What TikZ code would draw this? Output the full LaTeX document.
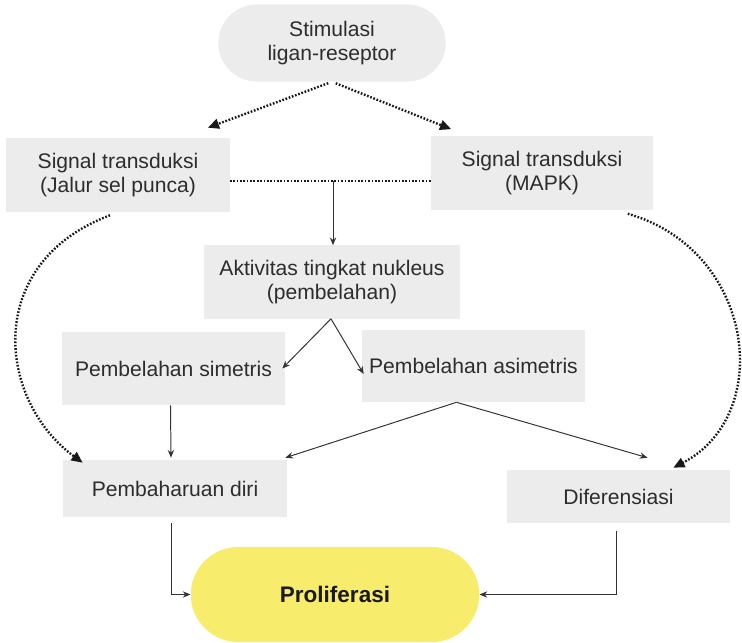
\documentclass[tikz,border=0pt]{standalone}
\usepackage{fontspec}
\setmainfont{Liberation Sans}
\usetikzlibrary{arrows.meta,calc,shapes.misc}
\definecolor{boxgray}{RGB}{236,236,236}
\definecolor{prolyellow}{RGB}{248,236,108}
\definecolor{txtgray}{RGB}{45,45,45}

\tikzset{
block/.style    = {rectangle, fill=boxgray, text=txtgray, align=center, inner sep=2pt, font=\fontsize{15}{17}\selectfont},
pill/.style     = {rounded rectangle, align=center, inner sep=2pt},
line/.style     = {draw=black!80, line width=0.7pt, -{Stealth[length=5.5pt,width=4.5pt]}},
dotline/.style  = {draw=black!90, line width=1.7pt, dash pattern=on 1.2pt off 1.2pt},
dotarrow/.style = {dotline, -{Triangle[length=8pt,width=7pt]}},
}

\begin{document}
\begin{tikzpicture}[x=0.025cm, y=-0.025cm]
    \useasboundingbox (0,0) rectangle (742,643);
    % nodes
    \node[block, pill, minimum width=5.825cm, minimum height=1.925cm] (stim) at (332,43) {Stimulasi\\ligan-reseptor};
    \node[block, minimum width=5.575cm, minimum height=1.85cm] (jalur) at (118,175) {Signal transduksi\\(Jalur sel punca)};
    \node[block, minimum width=5.525cm, minimum height=1.825cm] (mapk) at (542,173) {Signal transduksi\\(MAPK)};
    \node[block, minimum width=6.375cm, minimum height=1.825cm] (akt) at (332,282) {Aktivitas tingkat nukleus\\(pembelahan)};
    \node[block, minimum width=5.575cm, minimum height=1.825cm] (sim) at (173.5,368.5) {Pembelahan simetris};
    \node[block, minimum width=5.575cm, minimum height=1.8cm] (asim) at (473.5,366) {Pembelahan asimetris};
    \node[block, minimum width=5.6cm, minimum height=1.425cm] (baru) at (175,488.5) {Pembaharuan diri};
    \node[block, minimum width=5.575cm, minimum height=1.325cm] (dif) at (618.5,496.5) {Diferensiasi};
    \node[pill, fill=prolyellow, text=black!90, font=\bfseries\fontsize{16}{18}\selectfont,
          minimum width=7.35cm, minimum height=2.375cm] (prol) at (335,594.5) {Proliferasi};

    % signal paths
    \draw[dotarrow, shorten <=1mm] (stim.south) -- ($(jalur.north east)+(-22,-10)$);
    \draw[dotarrow, shorten <=1mm] (stim.south) -- ($(mapk.north west)+(20,-7)$);
    \coordinate (mid) at (333,181);
    \draw[dotline] (jalur.east |- mid) -- (mapk.west |- mid);
    \draw[line] (mid) -- (akt.north -| mid);

    % pembelahan
    \draw[line] ($(akt.south)+(-1,0)$) -- ($(sim.east)+(-3,0)$);
    \draw[line] ($(akt.south)+(-1,0)$) -- ($(asim.west)+(2,8)$);
    \draw[line] ($(sim.south)+(-3,0)$) -- ($(baru.north)+(-4,-2)$);
    \draw[line] ($(asim.south)+(-17,0)$) -- ($(baru.north east)+(-2,-2)$);
    \draw[line] ($(asim.south)+(-17,0)$) -- ($(dif.north)+(29,-12)$);

    % dotted curves
    \draw[dotarrow] ($(jalur.south)+(-8,3)$) .. controls (-17,263) and (-3,400) .. ($(baru.north west)+(20,3)$);
    \draw[dotarrow] ($(mapk.south east)+(-25,4)$) .. controls (755,250) and (775,415) .. ($(dif.north east)+(-57,-2)$);

    % to proliferasi
    \draw[line, shorten <=1.5mm] ($(baru.south)+(-4,0)$) |- (prol.west);
    \draw[line, shorten <=2mm] ($(dif.south)+(-2,0)$) |- (prol.east);
\end{tikzpicture}
\end{document}
